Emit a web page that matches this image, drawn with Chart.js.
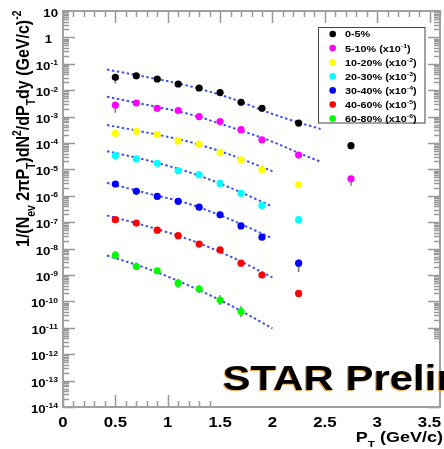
<!DOCTYPE html>
<html lang="en">
<head>
<meta charset="UTF-8">
<title>STAR pT spectra</title>
<script src="https://cdn.jsdelivr.net/npm/chart.js@4"></script>
<style>
    html, body { margin: 0; padding: 0; background: #fff; }
    .chart-container { width: 444px; height: 449px; position: relative; }
</style>
</head>
<body>
<div class="chart-container"><canvas id="chart1"></canvas></div>
<script>
// pT bin centres (GeV/c)
const ptBins = [0.5, 0.7, 0.9, 1.1, 1.3, 1.5, 1.7, 1.9, 2.25, 2.75];

// spectra, already scaled as in the legend
const cent0to5   = [0.031, 0.035, 0.0266, 0.0172, 0.0121, 0.0081, 0.0035, 0.00206, 5.7e-4, 7.9e-5];
const cent5to10  = [2.75e-3, 3.27e-3, 2.06e-3, 1.7e-3, 1.0e-3, 6.5e-4, 3.2e-4, 1.33e-4, 3.5e-5, 4.4e-6];
const cent10to20 = [2.3e-4, 2.77e-4, 2.08e-4, 1.2e-4, 9.1e-5, 4.4e-5, 2.3e-5, 9.8e-6, 2.6e-6, null];
const cent20to30 = [3.3e-5, 2.5e-5, 1.7e-5, 8.9e-6, 6.3e-6, 2.95e-6, 1.25e-6, 4.3e-7, 1.25e-7, null];
const cent30to40 = [2.8e-6, 1.48e-6, 9.5e-7, 6.2e-7, 3.7e-7, 1.9e-7, 7.2e-8, 2.7e-8, 2.8e-9, null];
const cent40to60 = [1.25e-7, 9.3e-8, 5.0e-8, 3.1e-8, 1.49e-8, 8.9e-9, 2.8e-9, 1.0e-9, 2.0e-10, null];
const cent60to80 = [5.7e-9, 2.1e-9, 1.45e-9, 4.9e-10, 2.95e-10, 1.13e-10, 4.1e-11, null, null, null];

// fit curves (dashed)
const fitPtLong  = [0.42, 0.8, 1.2, 1.6, 2.0, 2.25, 2.46];
const fitPtShort = [0.42, 0.8, 1.2, 1.6, 2.0];
const fit0to5   = [0.0603, 0.0316, 0.0145, 0.0050, 0.00126, 6.0e-4, 3.4e-4];
const fit5to10  = [5.6e-3, 2.8e-3, 1.26e-3, 4.0e-4, 1.12e-4, 4.2e-5, 1.95e-5];
const fit10to20 = [4.8e-4, 2.5e-4, 1.12e-4, 3.55e-5, 8.5e-6];
const fit20to30 = [4.9e-5, 2.24e-5, 7.9e-6, 2.0e-6, 3.9e-7];
const fit30to40 = [3.1e-6, 1.26e-6, 5.0e-7, 1.26e-7, 2.45e-8];
const fit40to60 = [1.8e-7, 7.1e-8, 2.24e-8, 5.0e-9, 8.1e-10];
const fit60to80 = [5.5e-9, 1.78e-9, 4.0e-10, 7.1e-11, 9.5e-12];

// vertical error bars: [series, bin, low, high]
const errorBars = [
    [0, 0, 0.018, 0.04],
    [1, 0, 1.4e-3, 3.6e-3],
    [1, 9, 2.4e-6, 5.5e-6],
    [4, 8, 1.3e-9, 4.0e-9],
    [6, 0, 4.0e-9, 8.0e-9],
    [6, 1, 1.5e-9, 3.0e-9],
    [6, 3, 3.3e-10, 7.0e-10],
    [6, 4, 2.1e-10, 4.1e-10],
    [6, 5, 7.5e-11, 1.7e-10],
    [6, 6, 2.5e-11, 6.5e-11]
];

const seriesNames  = ['0-5%', '5-10%', '10-20%', '20-30%', '30-40%', '40-60%', '60-80%'];
const scaleExps    = [null, '-1', '-2', '-3', '-4', '-5', '-6'];
const seriesColors = ['#000000', '#ff00ff', '#ffff00', '#00ffff', '#0000ff', '#ff0000', '#00ff00'];

const xTickLabels = ['0', '0.5', '1', '1.5', '2', '2.5', '3', '3.5'];

const spectra = [cent0to5, cent5to10, cent10to20, cent20to30, cent30to40, cent40to60, cent60to80];
const fits = [fit0to5, fit5to10, fit10to20, fit20to30, fit30to40, fit40to60, fit60to80];

const FONT = '"Liberation Sans", Arial, sans-serif';
const SX = 1.2; // picture is a bit stretched sideways

function toPoints(xs, ys) {
    return xs.map((x, i) => ({ x: x, y: ys[i] })).filter(p => p.y !== null);
}

// text with sub/superscripts; parts = [[text, 0|1|-1], ...]
function richWidth(ctx, parts, size) {
    let w = 0;
    parts.forEach(p => {
        ctx.font = 'bold ' + (p[1] ? size * 0.65 : size) + 'px ' + FONT;
        w += ctx.measureText(p[0]).width;
    });
    return w;
}
function drawRich(ctx, parts, size, align) {
    const w = richWidth(ctx, parts, size);
    let cx = align === 'right' ? -w : (align === 'center' ? -w / 2 : 0);
    ctx.textAlign = 'left';
    ctx.textBaseline = 'alphabetic';
    parts.forEach(p => {
        ctx.font = 'bold ' + (p[1] ? size * 0.65 : size) + 'px ' + FONT;
        const dy = p[1] === 1 ? -size * 0.42 : (p[1] === -1 ? size * 0.32 : 0);
        ctx.fillText(p[0], cx, dy);
        cx += ctx.measureText(p[0]).width;
    });
}
function textAt(ctx, parts, x, y, size, align) {
    ctx.save();
    ctx.translate(x, y);
    ctx.scale(SX, 1);
    drawRich(ctx, parts, size, align);
    ctx.restore();
}

const errorBarPlugin = {
    id: 'errorBars',
    beforeDatasetsDraw(chart) {
        const ctx = chart.ctx, xs = chart.scales.x, ys = chart.scales.y;
        ctx.save();
        ctx.strokeStyle = '#777';
        ctx.lineWidth = 1.5;
        errorBars.forEach(e => {
            const px = xs.getPixelForValue(ptBins[e[1]]);
            ctx.beginPath();
            ctx.moveTo(px, ys.getPixelForValue(e[2]));
            ctx.lineTo(px, ys.getPixelForValue(e[3]));
            ctx.stroke();
        });
        ctx.restore();
    }
};

const framePlugin = {
    id: 'frame',
    afterDraw(chart) {
        const ctx = chart.ctx, a = chart.chartArea;
        const xs = chart.scales.x, ys = chart.scales.y;
        ctx.save();

        // ticks
        ctx.strokeStyle = '#999';
        ctx.lineWidth = 1.5;
        ctx.beginPath();
        for (let d = -14; d <= 0; d++) {
            for (let m = 1; m <= 9; m++) {
                const py = Math.round(ys.getPixelForValue(m * Math.pow(10, d))) + 0.5;
                const len = m === 1 ? 12 : 6;
                ctx.moveTo(a.left, py); ctx.lineTo(a.left + len, py);
                ctx.moveTo(a.right, py); ctx.lineTo(a.right - len, py);
            }
        }
        for (let i = 0; i <= 36; i++) {
            const px = Math.round(xs.getPixelForValue(i / 10)) + 0.5;
            const len = i % 5 === 0 ? 12 : 6;
            ctx.moveTo(px, a.bottom); ctx.lineTo(px, a.bottom - len);
            ctx.moveTo(px, a.top); ctx.lineTo(px, a.top + len);
        }
        ctx.stroke();

        // white box under the preliminary label
        ctx.fillStyle = '#fff';
        ctx.fillRect(216, 342, a.right - 216 + 2, a.bottom - 343);

        // frame
        ctx.strokeStyle = '#a0a0a0';
        ctx.lineWidth = 2;
        ctx.strokeRect(a.left, a.top, a.right - a.left, a.bottom - a.top);

        // STAR Preliminary
        ctx.save();
        ctx.font = 'bold 35px ' + FONT;
        ctx.translate(222.5, 390);
        ctx.scale(SX, 1);
        ctx.textAlign = 'left';
        ctx.fillStyle = '#f2a94a';
        ctx.fillText('STAR Preliminary', -0.9, 0.8);
        ctx.fillStyle = '#000';
        ctx.fillText('STAR Preliminary', 0, 0);
        ctx.restore();

        ctx.fillStyle = '#000';

        // y tick labels
        for (let d = -14; d <= 1; d++) {
            const py = ys.getPixelForValue(Math.pow(10, d)) + 6;
            if (d === 1) textAt(ctx, [['10', 0]], 58, py, 11, 'right');
            else if (d === 0) textAt(ctx, [['1', 0]], 52, py, 11, 'right');
            else textAt(ctx, [['10', 0], [String(d), 1]], 58, py, 11, 'right');
        }

        // x tick labels
        xTickLabels.forEach((t, i) => {
            textAt(ctx, [[t, 0]], xs.getPixelForValue(i * 0.5), 427, 14, 'center');
        });

        // x title
        textAt(ctx, [['P', 0], ['T', -1], [' (GeV/c)', 0]], 443, 442, 15, 'right');

        // y title
        ctx.save();
        ctx.translate(29, 247);
        ctx.rotate(-Math.PI / 2);
        ctx.scale(1, SX);
        drawRich(ctx, [['1/(N', 0], ['ev', -1], [' 2\u03c0P', 0], ['T', -1], [')dN', 0], ['2', 1],
                       ['/dP', 0], ['T', -1], ['dy (GeV/c)', 0], ['-2', 1]], 16, 'left');
        ctx.restore();

        // legend
        ctx.fillStyle = '#fff';
        ctx.fillRect(318.5, 27.5, 106.5, 95.5);
        ctx.strokeStyle = '#444';
        ctx.lineWidth = 1;
        ctx.strokeRect(318.5, 27.5, 106.5, 95.5);
        seriesNames.forEach((name, i) => {
            const cy = 34 + i * 14.1;
            ctx.fillStyle = seriesColors[i];
            ctx.beginPath();
            ctx.arc(332.7, cy, 3.3, 0, Math.PI * 2);
            ctx.fill();
            ctx.fillStyle = '#000';
            const parts = scaleExps[i] ? [[name + ' (x10', 0], [scaleExps[i], 1], [')', 0]] : [[name, 0]];
            textAt(ctx, parts, 345, cy + 3.4, 9, 'left');
        });

        ctx.restore();
    }
};

const datasets = [];
fits.forEach((f, i) => {
    datasets.push({
        type: 'line',
        data: toPoints(i < 2 ? fitPtLong : fitPtShort, f),
        borderColor: '#3f52f2',
        borderWidth: 2,
        borderDash: [2.5, 2.5],
        pointRadius: 0,
        fill: false,
        cubicInterpolationMode: 'monotone',
        order: 2
    });
});
spectra.forEach((s, i) => {
    datasets.push({
        type: 'scatter',
        data: toPoints(ptBins, s),
        backgroundColor: seriesColors[i],
        borderWidth: 0,
        pointRadius: 3.6,
        order: 1
    });
});

const ctx1 = document.getElementById('chart1').getContext('2d');
const chart1 = new Chart(ctx1, {
    type: 'scatter',
    data: { datasets: datasets },
    options: {
        responsive: true,
        maintainAspectRatio: false,
        animation: false,
        layout: { padding: { left: 63, top: 11, right: 1, bottom: 42 } },
        plugins: { legend: { display: false }, tooltip: { enabled: false } },
        scales: {
            x: { type: 'linear', min: 0, max: 3.6, display: false },
            y: { type: 'logarithmic', min: 1e-14, max: 10, display: false }
        }
    },
    plugins: [errorBarPlugin, framePlugin]
});
</script>
</body>
</html>
